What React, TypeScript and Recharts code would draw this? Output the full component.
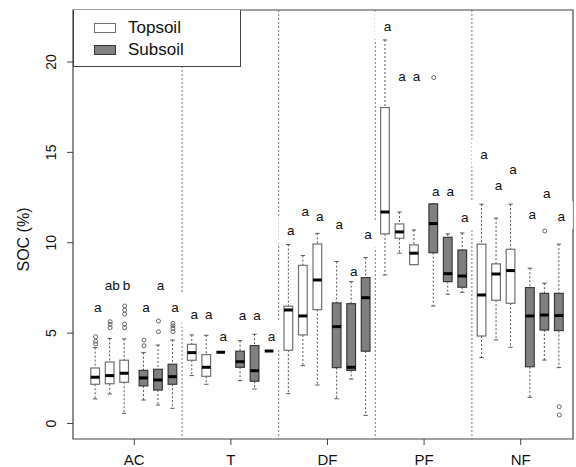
import {
  ComposedChart,
  Bar,
  Scatter,
  XAxis,
  YAxis,
  ReferenceArea,
  Legend,
  Label,
} from "recharts";

const groups = ["AC", "T", "DF", "PF", "NF"];
const soils = ["Topsoil", "Topsoil", "Topsoil", "Subsoil", "Subsoil", "Subsoil"];
const yTicks = [0, 5, 10, 15, 20];

// one row per group, columns: topsoil x3, subsoil x3
const whiskerLow = [
  [1.36, 1.63, 0.56, 1.3, 1.02, 0.84],
  [2.65, 2.17, 3.94, 2.37, 1.91, 4.01],
  [1.65, 3.2, 2.13, 1.37, 2.46, 0.45],
  [8.22, 9.42, 8.79, 6.5, 7.15, 7.26],
  [3.64, 4.62, 4.22, 1.45, 3.51, 3.09],
];
const quartile1 = [
  [2.17, 2.2, 2.28, 2.08, 1.85, 2.17],
  [3.5, 2.61, 3.94, 3.11, 2.34, 4.01],
  [4.05, 4.9, 6.3, 3.09, 2.94, 4.0],
  [10.49, 10.25, 8.79, 9.45, 7.85, 7.54],
  [4.84, 6.82, 6.65, 3.14, 5.17, 5.14],
];
const medians = [
  [2.56, 2.65, 2.78, 2.52, 2.41, 2.59],
  [3.92, 3.11, 3.94, 3.42, 2.92, 4.01],
  [6.28, 5.95, 7.94, 5.36, 3.11, 6.96],
  [11.7, 10.6, 9.42, 11.06, 8.29, 8.16],
  [7.11, 8.27, 8.46, 5.95, 6.0, 5.97],
];
const quartile3 = [
  [3.07, 3.4, 3.5, 2.94, 3.0, 3.28],
  [4.38, 3.81, 3.94, 4.0, 4.31, 4.01],
  [6.49, 8.75, 9.93, 6.67, 6.63, 8.07],
  [17.48, 11.04, 9.88, 12.15, 10.3, 9.6],
  [9.92, 8.83, 9.64, 7.52, 7.2, 7.2],
];
const whiskerHigh = [
  [4.2, 4.71, 4.68, 3.92, 4.34, 4.62],
  [4.9, 4.88, 3.94, 4.58, 4.94, 4.01],
  [9.9, 9.29, 10.52, 8.96, 7.85, 9.18],
  [21.22, 11.7, 10.71, 12.15, 10.49, 10.54],
  [12.13, 11.36, 12.13, 8.59, 7.76, 9.92],
];
const outliers = [
  [[4.8, 4.55, 4.4], [5.63, 5.49, 5.3], [6.5, 6.27, 6.05, 5.5, 5.3], [4.62, 4.3], [5.67, 5.08], [5.54, 5.41, 5.27, 5.08]],
  [[], [], [], [], [], []],
  [[], [], [], [], [], []],
  [[], [], [], [19.14], [], []],
  [[], [], [], [], [10.65], [0.93, 0.47]],
];
const letters = [
  ["a", "ab", "b", "a", "a", "a"],
  ["a", "a", "a", "a", "a", "a"],
  ["a", "a", "a", "a", "a", "a"],
  ["a", "a", "a", "a", "a", "a"],
  ["a", "a", "a", "a", "a", "a"],
];
const letterY = [
  [6.43, 7.65, 7.65, 6.43, 7.65, 6.43],
  [6.06, 6.06, 4.8, 6.0, 6.0, 4.8],
  [10.67, 11.74, 11.48, 11.02, 8.44, 10.45],
  [21.96, 19.19, 19.19, 12.87, 12.87, 11.41],
  [14.9, 13.2, 14.07, 11.6, 12.74, 11.48],
];

// x layout: groups 20 units apart, boxes placed around each centre
const groupCenter = (g: number) => 10 + g * 20;
const boxOffsets = [-8, -5, -2, 2, 5, 8];
const separators = [20, 40, 60, 80];

const X_DOMAIN: [number, number] = [-2.69, 100.83];
const Y_DOMAIN: [number, number] = [-0.858, 22.877];

const FONT = "'Liberation Sans', Arial, Helvetica, sans-serif";
const TOP_FILL = "#ffffff";
const TOP_STROKE = "#707070";
const SUB_FILL = "#808080";
const SUB_STROKE = "#3a3a3a";

// everything drawn by the bar layer, in paint order:
// dotted separators, white patches behind the letters, then the boxes
const sepRows = separators.map((s) => ({ kind: "sep", x: s, hi: Y_DOMAIN[1] }));
const bgRows = groups.flatMap((_, g) =>
  soils.map((_, b) => ({ kind: "bg", x: groupCenter(g) + boxOffsets[b], hi: letterY[g][b] }))
);
const boxRows = groups.flatMap((_, g) =>
  soils.map((soil, b) => ({
    kind: "box",
    x: groupCenter(g) + boxOffsets[b],
    lo: whiskerLow[g][b],
    q1: quartile1[g][b],
    med: medians[g][b],
    q3: quartile3[g][b],
    hi: whiskerHigh[g][b],
    soil,
  }))
);
const barRows = [...sepRows, ...bgRows, ...boxRows];

const outlierPoints = groups.flatMap((_, g) =>
  soils.flatMap((_, b) =>
    outliers[g][b].map((v) => ({ x: groupCenter(g) + boxOffsets[b], y: v }))
  )
);

const letterPoints = groups.flatMap((_, g) =>
  soils.map((_, b) => ({
    x: groupCenter(g) + boxOffsets[b],
    y: letterY[g][b],
    label: letters[g][b],
  }))
);

function BoxShape(props: any) {
  const { x, y, width, height, payload } = props;
  if (!payload || !height) return null;
  const { hi } = payload;
  // bar runs from 0 up to hi, so one unit = height / hi
  const py = (v: number) => y + ((hi - v) / hi) * height;
  const cx = x + width / 2;

  if (payload.kind === "sep") {
    return <line x1={cx} x2={cx} y1={py(Y_DOMAIN[1])} y2={py(Y_DOMAIN[0])} stroke="#777" strokeDasharray="2 2" />;
  }
  if (payload.kind === "bg") {
    return <rect x={cx - 10} y={y - 15} width={24} height={28} fill="#fff" />;
  }

  const { lo, q1, med, q3, soil } = payload;
  const capHalf = width / 4;
  const fill = soil === "Topsoil" ? TOP_FILL : SUB_FILL;
  const stroke = soil === "Topsoil" ? TOP_STROKE : SUB_STROKE;
  return (
    <g>
      <line x1={cx} x2={cx} y1={py(hi)} y2={py(q3)} stroke="#555" strokeDasharray="2 2" />
      <line x1={cx} x2={cx} y1={py(q1)} y2={py(lo)} stroke="#555" strokeDasharray="2 2" />
      <line x1={cx - capHalf} x2={cx + capHalf} y1={py(hi)} y2={py(hi)} stroke="#555" />
      <line x1={cx - capHalf} x2={cx + capHalf} y1={py(lo)} y2={py(lo)} stroke="#555" />
      <rect
        x={x}
        y={py(q3)}
        width={width}
        height={Math.max(py(q1) - py(q3), 0)}
        fill={fill}
        stroke={stroke}
        strokeWidth={1.2}
      />
      <line x1={x} x2={x + width} y1={py(med)} y2={py(med)} stroke="#000" strokeWidth={3} />
    </g>
  );
}

function LetterText(props: any) {
  const { cx, cy, payload } = props;
  return (
    <text x={cx + 2} y={cy} dy="0.35em" textAnchor="middle" fontSize={13.5} fill="#111" fontFamily={FONT}>
      {payload.label}
    </text>
  );
}

function OutlierDot(props: any) {
  const { cx, cy } = props;
  return <circle cx={cx} cy={cy} r={2} fill="none" stroke="#666" strokeWidth={1} />;
}

function YTick(props: any) {
  const { x, y, payload } = props;
  return (
    <text
      transform={`translate(${x - 14},${y}) rotate(-90)`}
      textAnchor="middle"
      dy="0.35em"
      fontSize={14}
      fill="#111"
      fontFamily={FONT}
    >
      {payload.value}
    </text>
  );
}

function YTitle(props: any) {
  const vb = props.viewBox || { x: 8, y: 10, width: 65, height: 429 };
  const x = vb.x + 15;
  const y = vb.y + vb.height / 2 + 15;
  return (
    <text
      transform={`translate(${x},${y}) rotate(-90)`}
      textAnchor="middle"
      dy="0.35em"
      fontSize={16}
      fill="#111"
      fontFamily={FONT}
    >
      SOC (%)
    </text>
  );
}

function LegendBox() {
  const row = (label: string, fill: string, stroke: string, top: number) => (
    <div style={{ position: "absolute", left: 0, top, height: 20, width: "100%" }}>
      <div
        style={{
          position: "absolute",
          left: 20,
          top: 5,
          width: 22,
          height: 10,
          background: fill,
          border: `1px solid ${stroke}`,
          boxSizing: "border-box",
        }}
      />
      <span style={{ position: "absolute", left: 54, top: 0, lineHeight: "20px", fontSize: 17, color: "#111" }}>
        {label}
      </span>
    </div>
  );
  return (
    <div
      style={{
        position: "relative",
        width: 168,
        height: 57,
        border: "1px solid #444",
        borderTop: "none",
        background: "#fff",
        boxSizing: "border-box",
        fontFamily: FONT,
      }}
    >
      {row("Topsoil", TOP_FILL, TOP_STROKE, 8)}
      {row("Subsoil", SUB_FILL, SUB_STROKE, 30)}
    </div>
  );
}

export default function App() {
  return (
    <div style={{ position: "absolute", left: 0, top: 0, width: 576, height: 467, background: "#fff", fontFamily: FONT }}>
      <ComposedChart
        width={576}
        height={467}
        data={barRows}
        margin={{ top: 10, right: 3, bottom: 0, left: 8 }}
      >
        <XAxis
          type="number"
          dataKey="x"
          domain={X_DOMAIN}
          allowDataOverflow
          ticks={[10, 30, 50, 70, 90]}
          tickFormatter={(v: number) => groups[Math.round((v - 10) / 20)]}
          axisLine={false}
          tickLine={{ stroke: "#444" }}
          tickSize={6}
          tickMargin={9}
          height={28}
          tick={{ fill: "#111", fontSize: 15, fontFamily: FONT }}
        />
        <YAxis
          type="number"
          domain={Y_DOMAIN}
          allowDataOverflow
          ticks={yTicks}
          axisLine={false}
          tickLine={{ stroke: "#444" }}
          tickSize={6}
          width={65}
          tick={<YTick />}
        >
          <Label content={<YTitle />} />
        </YAxis>
        <Bar dataKey="hi" barSize={13} shape={<BoxShape />} isAnimationActive={false} />
        <Scatter data={outlierPoints} dataKey="y" shape={<OutlierDot />} isAnimationActive={false} />
        <Scatter data={letterPoints} dataKey="y" shape={<LetterText />} isAnimationActive={false} />
        <ReferenceArea
          x1={X_DOMAIN[0]}
          x2={X_DOMAIN[1]}
          y1={Y_DOMAIN[0]}
          y2={Y_DOMAIN[1]}
          fill="none"
          fillOpacity={0}
          stroke="#444"
          strokeWidth={1.2}
        />
        <Legend
          content={<LegendBox />}
          verticalAlign="middle"
          align="center"
          layout="horizontal"
          wrapperStyle={{ top: 10, left: 73, width: 168, height: 57 }}
        />
      </ComposedChart>
    </div>
  );
}
